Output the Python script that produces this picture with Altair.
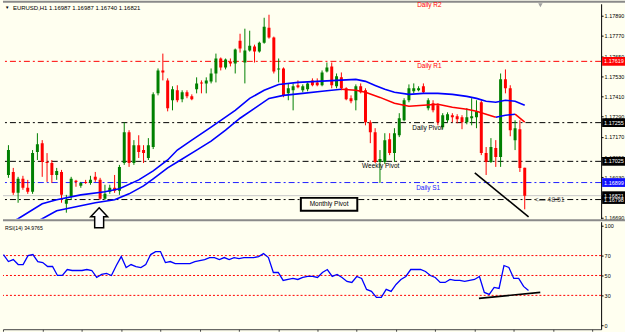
import altair as alt
import pandas as pd

# ---------------- data ----------------
bars = list(range(108))
opens = [1.16944, 1.16962, 1.16838, 1.16921, 1.16868, 1.16844, 1.17080, 1.17133, 1.17021, 1.17015,
         1.16944, 1.16962, 1.16773, 1.16815, 1.16909, 1.16880, 1.16903, 1.16897, 1.16933, 1.16915,
         1.16803, 1.16844, 1.16868, 1.16850, 1.17015, 1.17198, 1.17015, 1.17121, 1.17092, 1.17045,
         1.17110, 1.17429, 1.17565, 1.17506, 1.17388, 1.17447, 1.17394, 1.17435, 1.17411, 1.17453,
         1.17494, 1.17488, 1.17500, 1.17547, 1.17636, 1.17583, 1.17618, 1.17606, 1.17742, 1.17612,
         1.17683, 1.17707, 1.17677, 1.17730, 1.17819, 1.17760, 1.17571, 1.17577, 1.17429, 1.17447,
         1.17477, 1.17447, 1.17453, 1.17506, 1.17494, 1.17477, 1.17559, 1.17589, 1.17471, 1.17524,
         1.17459, 1.17400, 1.17388, 1.17471, 1.17447, 1.17257, 1.17198, 1.17021, 1.17021, 1.17157,
         1.17074, 1.17180, 1.17269, 1.17388, 1.17441, 1.17447, 1.17471, 1.17341, 1.17370, 1.17358,
         1.17228, 1.17269, 1.17299, 1.17293, 1.17287, 1.17257, 1.17281, 1.17287, 1.17376, 1.17074,
         1.17021, 1.17104, 1.17051, 1.17512, 1.17459, 1.17151, 1.17216, 1.16987]
highs = [1.17121, 1.16986, 1.16933, 1.16939, 1.16915, 1.17092, 1.17192, 1.17151, 1.17074, 1.17033,
         1.16986, 1.16974, 1.16826, 1.16933, 1.16915, 1.16903, 1.16915, 1.16939, 1.16962, 1.16927,
         1.16886, 1.16886, 1.16944, 1.17004, 1.17257, 1.17210, 1.17151, 1.17180, 1.17121, 1.17163,
         1.17435, 1.17577, 1.17665, 1.17518, 1.17471, 1.17477, 1.17447, 1.17447, 1.17423, 1.17524,
         1.17506, 1.17524, 1.17577, 1.17665, 1.17642, 1.17636, 1.17636, 1.17695, 1.17783, 1.17813,
         1.17801, 1.17718, 1.17736, 1.17878, 1.17896, 1.17766, 1.17636, 1.17583, 1.17488, 1.17488,
         1.17506, 1.17482, 1.17494, 1.17518, 1.17518, 1.17565, 1.17612, 1.17612, 1.17547, 1.17553,
         1.17465, 1.17417, 1.17482, 1.17488, 1.17459, 1.17269, 1.17222, 1.17092, 1.17192, 1.17192,
         1.17222, 1.17311, 1.17400, 1.17482, 1.17488, 1.17471, 1.17488, 1.17400, 1.17388, 1.17370,
         1.17311, 1.17316, 1.17311, 1.17305, 1.17299, 1.17341, 1.17400, 1.17388, 1.17388, 1.17110,
         1.17163, 1.17151, 1.17547, 1.17571, 1.17477, 1.17269, 1.17269, 1.16987]
lows = [1.16927, 1.16826, 1.16779, 1.16856, 1.16832, 1.16832, 1.17033, 1.16933, 1.16903, 1.16897,
        1.16915, 1.16779, 1.16720, 1.16797, 1.16874, 1.16868, 1.16891, 1.16886, 1.16903, 1.16797,
        1.16797, 1.16832, 1.16838, 1.16826, 1.17004, 1.16992, 1.17004, 1.17045, 1.17015, 1.17033,
        1.17098, 1.17417, 1.17506, 1.17322, 1.17328, 1.17376, 1.17376, 1.17400, 1.17388, 1.17429,
        1.17429, 1.17429, 1.17488, 1.17494, 1.17565, 1.17571, 1.17589, 1.17547, 1.17671, 1.17488,
        1.17677, 1.17612, 1.17671, 1.17724, 1.17754, 1.17547, 1.17494, 1.17406, 1.17388, 1.17328,
        1.17459, 1.17435, 1.17441, 1.17471, 1.17471, 1.17471, 1.17553, 1.17459, 1.17459, 1.17447,
        1.17388, 1.17370, 1.17328, 1.17429, 1.17239, 1.17133, 1.17015, 1.16897, 1.17009, 1.17062,
        1.17021, 1.17169, 1.17263, 1.17376, 1.17429, 1.17441, 1.17429, 1.17328, 1.17316, 1.17239,
        1.17216, 1.17257, 1.17257, 1.17251, 1.17216, 1.17245, 1.17239, 1.17222, 1.17062, 1.16944,
        1.17015, 1.16992, 1.16992, 1.17429, 1.17174, 1.17092, 1.16962, 1.16740]
closes = [1.17092, 1.16838, 1.16921, 1.16868, 1.16844, 1.17074, 1.17127, 1.17021, 1.17015, 1.16944,
          1.16968, 1.16826, 1.16797, 1.16921, 1.16903, 1.16897, 1.16897, 1.16915, 1.16915, 1.16803,
          1.16832, 1.16868, 1.16850, 1.16992, 1.17198, 1.17015, 1.17121, 1.17080, 1.17074, 1.17121,
          1.17423, 1.17565, 1.17553, 1.17341, 1.17453, 1.17388, 1.17435, 1.17411, 1.17394, 1.17488,
          1.17488, 1.17506, 1.17547, 1.17636, 1.17583, 1.17630, 1.17606, 1.17689, 1.17695, 1.17683,
          1.17712, 1.17677, 1.17730, 1.17825, 1.17760, 1.17559, 1.17577, 1.17417, 1.17459, 1.17471,
          1.17465, 1.17471, 1.17488, 1.17477, 1.17477, 1.17553, 1.17583, 1.17477, 1.17530, 1.17459,
          1.17394, 1.17382, 1.17471, 1.17435, 1.17257, 1.17198, 1.17021, 1.17039, 1.17151, 1.17074,
          1.17192, 1.17281, 1.17388, 1.17459, 1.17459, 1.17459, 1.17435, 1.17388, 1.17328, 1.17257,
          1.17299, 1.17305, 1.17287, 1.17275, 1.17257, 1.17287, 1.17293, 1.17322, 1.17074, 1.17021,
          1.17110, 1.17051, 1.17512, 1.17459, 1.17210, 1.17222, 1.16986, 1.16821]

rsi = [71, 64, 66, 61, 61, 70, 71, 64, 63, 59, 59, 50, 50, 56, 55, 55, 55, 56, 55, 48,
       51, 52, 50, 60, 69, 58, 61, 59, 58, 61, 71, 74, 74, 63, 64, 62, 62, 62, 62, 64,
       65, 66, 68, 68, 66, 68, 66, 68, 67, 68, 68, 68, 69, 72, 68, 53, 53, 45, 46, 47,
       46, 48, 49, 49, 48, 53, 56, 49, 51, 48, 44, 43, 49, 47, 36, 34, 28, 28, 36, 34,
       41, 46, 49, 56, 56, 56, 54, 50, 48, 43, 43, 46, 45, 45, 44, 45, 46, 49, 33, 31,
       38, 37, 60, 58, 47, 47, 39, 35]

ma_fast_bar = [0, 2, 7, 10, 15, 20, 23, 27, 30, 33, 35, 38, 42, 47, 50, 53, 56, 60, 64, 68,
               72, 74, 76, 78, 80, 83, 86, 89, 92, 95, 97, 99, 101, 103, 105, 107]
ma_fast = [1.16655, 1.16684, 1.16773, 1.16797, 1.16826, 1.16844, 1.16862, 1.16915, 1.16968, 1.17033,
           1.17092, 1.17151, 1.17228, 1.17328, 1.17399, 1.17447, 1.17482, 1.17494, 1.17500, 1.17506,
           1.17512, 1.17500, 1.17476, 1.17453, 1.17435, 1.17423, 1.17429, 1.17429, 1.17423, 1.17411,
           1.17399, 1.17382, 1.17376, 1.17388, 1.17382, 1.17358]

ma_slow_bar = [5, 7, 10, 14, 18, 22, 25, 28, 30, 33, 35, 39, 42, 45, 48, 51, 54, 57, 61, 65,
               69, 72, 74, 77, 80, 83, 86, 89, 92, 95, 97, 99, 101, 103, 105, 107]
ma_slow = [1.16655, 1.16684, 1.16731, 1.16755, 1.16779, 1.16797, 1.16832, 1.16879, 1.16921, 1.16986,
           1.17021, 1.17092, 1.17145, 1.17210, 1.17281, 1.17340, 1.17399, 1.17417, 1.17429, 1.17441,
           1.17453, 1.17447, 1.17435, 1.17405, 1.17370, 1.17352, 1.17358, 1.17364, 1.17346, 1.17334,
           1.17323, 1.17305, 1.17287, 1.17299, 1.17305, 1.17258]
slow_breaks = [69, 101, 105]
slow_colors = ["#0000ff", "#ff0000", "#0000ff", "#ff0000"]

level_names = ["Daily R2", "Daily R1", "Daily Pivot", "Weekly Pivot", "Daily S1", "Monthly Pivot"]
level_prices = [1.17985, 1.17619, 1.17255, 1.17025, 1.16899, 1.16798]
level_colors = ["#ff0000", "#ff0000", "#000000", "#000000", "#2020ff", "#000000"]
label_bars = [84.7, 84.7, 83.7, 73.3, 84.5]
bid_price = 1.16821

price_ticks = [1.16690, 1.16810, 1.16930, 1.17050, 1.17170, 1.17290, 1.17410, 1.17530,
               1.17650, 1.17770, 1.17890]
tag_prices = [1.17619, 1.17255, 1.17025, 1.16899, 1.16821, 1.16798]
tag_colors = ["#ff0000", "#000000", "#000000", "#1010ff", "#000000", "#000000"]

box_bars = [60.6, 72.3]
box_prices = [1.16731, 1.16808]
box_text_pos = [66.45, 1.16769]

trend_bars = [96.65, 107.8]
trend_prices = [1.16956, 1.16695]
rsi_trend_bars = [96.9, 109.4]
rsi_trend_vals = [27, 33]
rsi_levels = [70, 50, 30]
rsi_ticks = [0, 30, 50, 70, 100]

arrow_pos = [18.8, 1.16690]
timer_pos = [109.0, 1.16798]

title_text = "EURUSD,H1  1.16987 1.16987 1.16740 1.16821"
rsi_text = "RSI(14) 34.9765"

# ---------------- styling ----------------
BG = "#fffff0"
GREEN = "#008000"
RED = "#ff0000"
FONT = "Liberation Sans"
W = 601
H_MAIN = 216
H_RSI = 108

bar_scale = alt.Scale(domain=[-0.1, 121.8], nice=False, zero=False)
price_scale = alt.Scale(domain=[1.16684, 1.17961], nice=False, zero=False)
rsi_scale = alt.Scale(domain=[-4, 104], nice=False, zero=False)

price_axis = alt.Axis(orient="right", values=price_ticks, format=".5f", title=None, grid=False,
                      labelFontSize=5.5, labelColor="black", labelFont=FONT, tickSize=2,
                      labelPadding=1, tickColor="black", domainColor="black", labelOverlap=False)
rsi_axis = alt.Axis(orient="right", values=rsi_ticks, format="d", title=None, grid=False,
                    labelFontSize=5.5, labelColor="black", labelFont=FONT, tickSize=2,
                    labelPadding=1, tickColor="black", domainColor="black", labelOverlap=False)


def X(field="bar"):
    return alt.X(f"{field}:Q", scale=bar_scale, axis=None)


def PY(field):
    return alt.Y(f"{field}:Q", scale=price_scale, axis=price_axis)


candles = pd.DataFrame({"bar": bars, "open": opens, "high": highs, "low": lows, "close": closes})
candles["dir"] = ["up" if c >= o else "down" for o, c in zip(opens, closes)]
dir_color = alt.Color("dir:N", scale=alt.Scale(domain=["up", "down"], range=[GREEN, RED]), legend=None)

wicks = alt.Chart(candles).mark_rule(strokeWidth=1, clip=True).encode(
    x=X(), y=PY("low"), y2="high:Q", color=dir_color)
bodies = alt.Chart(candles).mark_bar(size=3, clip=True).encode(
    x=X(), y=PY("open"), y2="close:Q", color=dir_color)

levels = pd.DataFrame({"name": level_names, "price": level_prices, "color": level_colors})
level_rules = alt.Chart(levels).mark_rule(strokeWidth=1, strokeDash=[6, 3, 2, 3], clip=True).encode(
    y=PY("price"), color=alt.Color("color:N", scale=None))
bid_rule = alt.Chart(pd.DataFrame({"price": [bid_price]})).mark_rule(
    strokeWidth=1, color="#c8c8c8").encode(y=PY("price"))

lab = pd.DataFrame({"name": level_names[:5], "price": level_prices[:5],
                    "color": level_colors[:5], "bar": label_bars})
level_labels = alt.Chart(lab).mark_text(align="left", baseline="middle", dy=5, fontSize=6.5,
                                        font=FONT).encode(
    x=X(), y=PY("price"), text="name:N", color=alt.Color("color:N", scale=None))

fast_df = pd.DataFrame({"bar": ma_fast_bar, "val": ma_fast})
fast_line = alt.Chart(fast_df).mark_line(color="#0000ff", strokeWidth=1.6, clip=True).encode(
    x=X(), y=PY("val"))

rows = []
bounds = [ma_slow_bar[0]] + slow_breaks + [ma_slow_bar[-1]]
for s in range(len(bounds) - 1):
    lo, hi = bounds[s], bounds[s + 1]
    for b, v in zip(ma_slow_bar, ma_slow):
        if lo <= b <= hi:
            rows.append({"bar": b, "val": v, "seg": s, "color": slow_colors[s]})
slow_df = pd.DataFrame(rows)
slow_line = alt.Chart(slow_df).mark_line(strokeWidth=1.6, clip=True).encode(
    x=X(), y=PY("val"), detail="seg:N", color=alt.Color("color:N", scale=None), order="bar:Q")

box_df = pd.DataFrame({"b1": [box_bars[0]], "b2": [box_bars[1]], "p1": [box_prices[0]], "p2": [box_prices[1]]})
box = alt.Chart(box_df).mark_rect(fill=BG, stroke="black", strokeWidth=2).encode(
    x=X("b1"), x2="b2:Q", y=PY("p1"), y2="p2:Q")
box_txt = alt.Chart(pd.DataFrame({"bar": [box_text_pos[0]], "price": [box_text_pos[1]],
                                  "t": ["Monthly Pivot"]})).mark_text(
    fontSize=6.5, font=FONT, color="black", baseline="middle").encode(x=X(), y=PY("price"), text="t:N")

trend = alt.Chart(pd.DataFrame({"bar": trend_bars, "price": trend_prices})).mark_line(
    color="black", strokeWidth=1.6).encode(x=X(), y=PY("price"))

ARROW = "M0,-1 L0.85,-0.1 L0.45,-0.1 L0.45,1 L-0.45,1 L-0.45,-0.1 L-0.85,-0.1 Z"
arrow = alt.Chart(pd.DataFrame({"bar": [arrow_pos[0]], "price": [arrow_pos[1]]})).mark_point(
    shape=ARROW, size=400, fill="white", stroke="black", strokeWidth=1.5, fillOpacity=1,
    strokeOpacity=1).encode(x=X(), y=PY("price"))

timer = alt.Chart(pd.DataFrame({"bar": [timer_pos[0]], "price": [timer_pos[1]], "t": ["<— 48:51"]})).mark_text(
    align="left", baseline="middle", fontSize=7, font=FONT, color="#505050").encode(
    x=X(), y=PY("price"), text="t:N")

tags = pd.DataFrame({"price": tag_prices, "color": tag_colors,
                     "label": [f"{p:.5f}" for p in tag_prices]})
tag_rects = alt.Chart(tags).transform_calculate(
    lo="datum.price - 0.00026", hi="datum.price + 0.00026").mark_rect().encode(
    x=alt.value(602), x2=alt.value(625), y=PY("lo"), y2="hi:Q", color=alt.Color("color:N", scale=None))
tag_text = alt.Chart(tags).mark_text(align="left", baseline="middle", fontSize=5.5, font=FONT,
                                     color="white").encode(x=alt.value(604), y=PY("price"), text="label:N")

one = pd.DataFrame({"t": [title_text]})
top_border = alt.Chart(one).mark_rect(color="#8a8a8a").encode(
    x=alt.value(0), x2=alt.value(625), y=alt.value(-3), y2=alt.value(-1))
separator = alt.Chart(one).mark_rect(color="#8a8a8a").encode(
    x=alt.value(0), x2=alt.value(625), y=alt.value(216.5), y2=alt.value(218.5))
title = alt.Chart(one).mark_text(align="left", baseline="middle", fontSize=6, font=FONT,
                                 color="black").encode(x=alt.value(10), y=alt.value(4), text="t:N")
tri = alt.Chart(one).mark_text(align="left", baseline="middle", fontSize=4.5, color="black").encode(
    x=alt.value(2), y=alt.value(4.5), text=alt.value("▼"))
shift_mark = alt.Chart(one).mark_point(shape="triangle-down", size=20, fill="#a0a0a0",
                                       strokeWidth=0, fillOpacity=1).encode(
    x=alt.value(540), y=alt.value(1.5))

main = alt.layer(
    top_border, level_rules, bid_rule, wicks, bodies, fast_line, slow_line, level_labels,
    box, box_txt, trend, timer, tag_rects, tag_text, title, tri, shift_mark, separator, arrow
).properties(width=W, height=H_MAIN)

# ---------------- RSI panel ----------------
rsi_df = pd.DataFrame({"bar": bars, "rsi": rsi})
rsi_x_axis = alt.Axis(values=list(range(0, 121, 8)), labels=False, tickSize=2, title=None, grid=False,
                      domainColor="#404040", tickColor="#404040")
rsi_lvl = alt.Chart(pd.DataFrame({"v": rsi_levels})).mark_rule(
    color="#ff0000", strokeWidth=1, strokeDash=[2, 2]).encode(
    y=alt.Y("v:Q", scale=rsi_scale, axis=rsi_axis))
rsi_line = alt.Chart(rsi_df).mark_line(color="#0000ff", strokeWidth=1.3).encode(
    x=alt.X("bar:Q", scale=bar_scale, axis=rsi_x_axis),
    y=alt.Y("rsi:Q", scale=rsi_scale, axis=rsi_axis))
rsi_tr = alt.Chart(pd.DataFrame({"bar": rsi_trend_bars, "rsi": rsi_trend_vals})).mark_line(
    color="black", strokeWidth=1.6).encode(
    x=alt.X("bar:Q", scale=bar_scale, axis=rsi_x_axis),
    y=alt.Y("rsi:Q", scale=rsi_scale, axis=rsi_axis))
rsi_label = alt.Chart(pd.DataFrame({"t": [rsi_text]})).mark_text(
    align="left", baseline="middle", fontSize=5.2, font=FONT, color="black").encode(
    x=alt.value(2), y=alt.value(6), text="t:N")

rsi_panel = alt.layer(rsi_lvl, rsi_line, rsi_tr, rsi_label).properties(width=W, height=H_RSI)

chart = alt.vconcat(main, rsi_panel, spacing=3, bounds="flush").properties(
    padding={"left": 0, "top": 0, "right": 0, "bottom": 0}
).configure(background=BG).configure_view(stroke=None).configure_text(font=FONT)

chart.save("out.html", embed_options={"renderer": "svg", "actions": False})
